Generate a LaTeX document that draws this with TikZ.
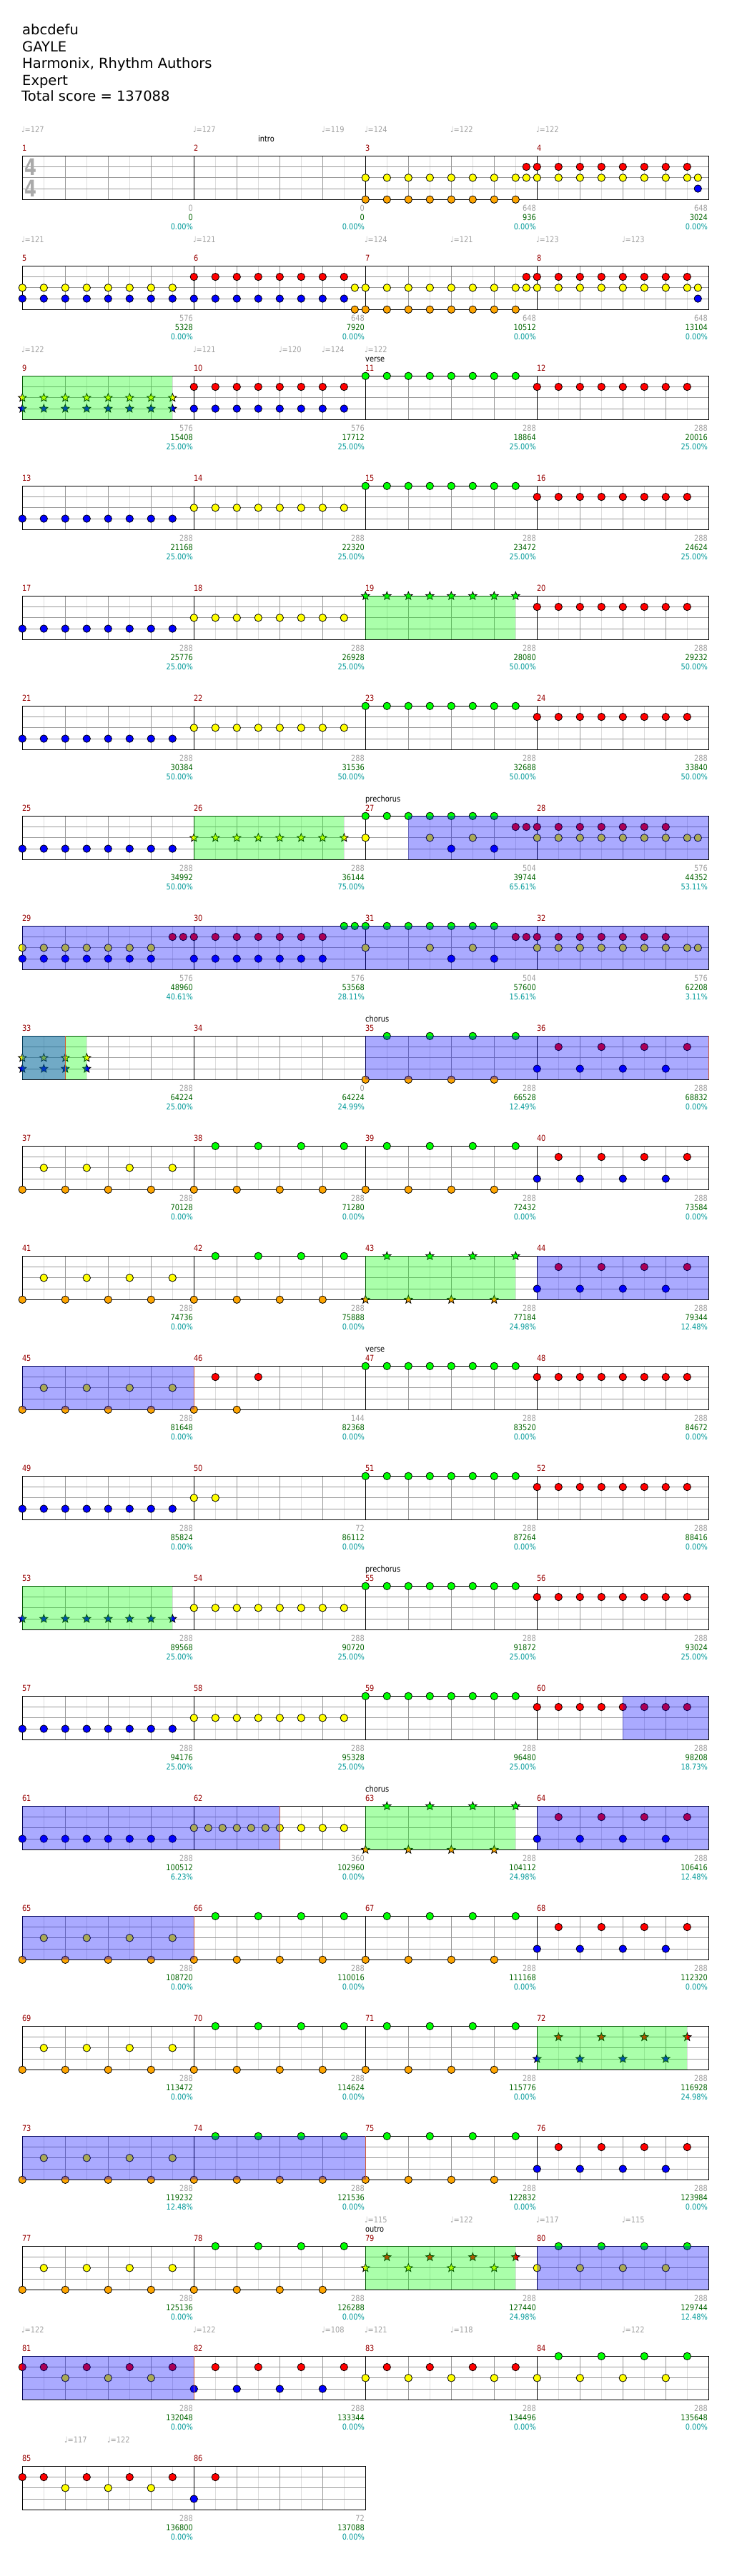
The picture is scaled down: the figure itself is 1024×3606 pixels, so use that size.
\documentclass[tikz,border=0pt]{standalone}
\usepackage{fontspec}
\setmainfont{DejaVu Sans}
\newfontfamily\chartfont[FakeStretch=0.86]{DejaVu Sans}
\newfontfamily\sigfont[FakeStretch=0.76]{DejaVu Sans}

\definecolor{lane0}{RGB}{0,255,0}
\definecolor{lane1}{RGB}{255,0,0}
\definecolor{lane2}{RGB}{255,255,0}
\definecolor{lane3}{RGB}{0,0,255}
\definecolor{lane4}{RGB}{255,165,0}
\definecolor{gridlight}{RGB}{221,221,221}
\definecolor{gridmid}{RGB}{153,153,153}
\definecolor{labelgray}{RGB}{160,160,160}
\definecolor{siggray}{RGB}{170,170,170}
\definecolor{measurered}{RGB}{150,0,0}
\definecolor{scoregreen}{RGB}{0,100,0}
\definecolor{meterteal}{RGB}{0,153,153}
\definecolor{odend}{RGB}{210,90,50}

\tikzset{
  halfline/.style={gridlight, line width=1pt},
  beatline/.style={gridmid, line width=1pt},
  laneline/.style={gridmid, line width=1pt},
  barline/.style={black, line width=1pt},
  note/.style={draw=black, line width=0.8pt},
  spgreen/.style={fill=lane0, fill opacity=0.333},
  odblue/.style={fill=lane3, fill opacity=0.333},
  odendline/.style={odend, line width=0.8pt},
  chart/.style={inner sep=0pt, font=\chartfont\fontsize{11.4}{12}\selectfont},
  mnum/.style={chart, text=measurered, anchor=base west},
  tempo/.style={chart, text=labelgray, anchor=base west},
  sect/.style={chart, text=black, anchor=base west},
  lennum/.style={chart, text=labelgray, anchor=base east},
  scorenum/.style={chart, text=scoregreen, anchor=base east},
  meternum/.style={chart, text=meterteal, anchor=base east},
  header/.style={inner sep=0pt, anchor=base west, font=\fontsize{19.5}{20}\selectfont},
  timesig/.style={inner sep=0pt, anchor=base west, text=siggray, font=\sigfont\bfseries\fontsize{32}{32}\selectfont}
}

\def\eighths{0,0.5,1,1.5,2,2.5,3,3.5}
\def\firstseven{0,0.5,1,1.5,2,2.5,3}
\def\beats{0,1,2,3}
\def\offbeats{0.5,1.5,2.5,3.5}

% start of measure #1: \mx, top of its staff: \my
\newcommand\mpos[1]{%
  \pgfmathtruncatemacro\rr{div(#1-1,4)}%
  \pgfmathtruncatemacro\cc{mod(#1-1,4)}%
  \pgfmathsetmacro\mx{31.3+240*\cc}%
  \pgfmathsetmacro\my{218.3+154*\rr}}

% measure, lanes, times
\newcommand\nts[3]{%
  \mpos{#1}\edef\tlist{#3}%
  \foreach \lane in {#2}{\foreach \tm in \tlist{%
    \draw[note, fill=lane\lane] (\mx+60*\tm,\my+15.25*\lane) circle[radius=5.2];}}}
\newcommand\sts[3]{%
  \mpos{#1}\edef\tlist{#3}%
  \foreach \lane in {#2}{\foreach \tm in \tlist{%
    \draw[note, fill=lane\lane] (\mx+60*\tm,\my+15.25*\lane)
      +(270:6) -- +(306:2.6) -- +(342:6) -- +(18:2.6) -- +(54:6) -- +(90:2.6)
      -- +(126:6) -- +(162:2.6) -- +(198:6) -- +(234:2.6) -- cycle;}}}
\newcommand\altnotes[3]{\nts{#1}{#2}{\beats}\nts{#1}{#3}{\offbeats}}
\newcommand\altstars[3]{\sts{#1}{#2}{\beats}\sts{#1}{#3}{\offbeats}}

\newcommand\greenseg[3]{\mpos{#1}\fill[spgreen] (\mx+60*#2,\my) rectangle (\mx+60*#3,\my+61);}
\newcommand\blueseg[4]{\mpos{#3}\let\xb\mx\mpos{#1}\fill[odblue] (\mx+60*#2,\my) rectangle (\xb+60*#4,\my+61);}
\newcommand\odstop[2]{\mpos{#1}\draw[odendline] (\mx+60*#2,\my) -- +(0,61);}

\begin{document}
\begin{tikzpicture}[x=1pt,y=-1pt]
\useasboundingbox (0,0) rectangle (1024,3606);

\node[header] (song) at (31,48.3) {abcdefu};
\node[header] (artist) at (31,72) {GAYLE};
\node[header] (charter) at (31,95.7) {Harmonix, Rhythm Authors};
\node[header] (level) at (31,119.2) {Expert};
\node[header] (total) at (30,141.7) {Total score = 137088};

% staves
\foreach \row in {0,...,21} {
  \pgfmathtruncatemacro\nm{\row<21 ? 4 : 2}
  \pgfmathsetmacro\ty{218.3+154*\row}
  \pgfmathsetmacro\xe{31.3+240*\nm}
  \pgfmathtruncatemacro\nq{4*\nm-1}
  \pgfmathtruncatemacro\nb{\nm-1}
  \foreach \h in {0,...,\nq} \draw[halfline] (61.3+60*\h,\ty) -- +(0,61);
  \foreach \k in {1,...,\nq} \draw[beatline] (31.3+60*\k,\ty) -- +(0,61);
  \foreach \k in {1,2,3} \draw[laneline] (31.3,\ty+15.25*\k) -- (\xe,\ty+15.25*\k);
  \foreach \k in {1,...,\nb} \draw[barline] (31.3+240*\k,\ty) -- +(0,61);
  \draw[barline] (31.3,\ty) rectangle (\xe,\ty+61);
}

\node[timesig] (sigtop) at (34.5,245) {4};
\node[timesig] (sigbot) at (34.5,275) {4};

% notes
\foreach \m in {13,17,21,25,49,57,61} {\nts{\m}{3}{\eighths}}
\foreach \m in {14,18,22,54,58} {\nts{\m}{2}{\eighths}}
\foreach \m in {11,15,23,47,51,55,59} {\nts{\m}{0}{\eighths}}
\foreach \m in {12,16,20,24,48,52,56,60} {\nts{\m}{1}{\eighths}}
\foreach \m/\la/\lb in {3/2/4, 7/2/4, 4/1/2, 8/1/2, 5/2/3, 6/1/3, 10/1/3} {\nts{\m}{\la,\lb}{\eighths}}
\foreach \m/\la/\lb in {3/1/2, 4/2/3, 6/2/4, 7/1/2, 8/2/3} {\nts{\m}{\la,\lb}{3.75}}
\foreach \m in {37,41,45,65,69,73,77} {\altnotes{\m}{4}{2}}
\foreach \m in {35,38,39,42,66,67,70,71,74,75,78} {\altnotes{\m}{4}{0}}
\foreach \m in {36,40,44,64,68,76,82} {\altnotes{\m}{3}{1}}
\altnotes{83}{2}{1}
\altnotes{80}{2}{0}
\altnotes{84}{2}{0}
\foreach \m in {27,31} {\nts{\m}{0}{\firstseven}\nts{\m}{2}{0,1.5,2.5}\nts{\m}{3}{2,3}\nts{\m}{1}{3.5,3.75}}
\foreach \m in {28,32} {\nts{\m}{1}{\firstseven}\nts{\m}{2}{\eighths,3.75}}
\nts{29}{2,3}{\firstseven}\nts{29}{1}{3.5,3.75}
\nts{30}{1,3}{\firstseven}\nts{30}{0}{3.5,3.75}
\nts{46}{4}{0,1}\nts{46}{1}{0.5,1.5}
\nts{50}{2}{0,0.5}
\nts{62}{2}{0,0.3333,0.6667,1,1.3333,1.6667,2,2.5,3,3.5}
\foreach \m in {81,85} {\nts{\m}{1}{0,\offbeats}\nts{\m}{2}{1,2,3}}
\nts{86}{3}{0}\nts{86}{1}{0.5}
% star notes
\sts{9}{2,3}{\eighths}
\sts{19}{0}{\eighths}
\sts{26}{2}{\eighths}
\sts{53}{3}{\eighths}
\sts{33}{2,3}{0,0.5,1,1.5}
\altstars{43}{4}{0}
\altstars{63}{4}{0}
\altstars{72}{3}{1}
\altstars{79}{2}{1}

% star power phrases
\foreach \m/\ta/\tb in {9/0/3.5, 19/0/3.5, 26/0/3.5, 33/0/1.5, 43/0/3.5, 53/0/3.5, 63/0/3.5, 72/0/3.5, 79/0/3.5} {\greenseg{\m}{\ta}{\tb}}
% overdrive
\foreach \ma/\ta/\mb/\tb in {27/1/28/4, 29/0/32/4, 33/0/33/1, 35/0/36/4, 44/0/44/4, 45/0/45/4, 60/2/60/4, 61/0/62/2,
  64/0/64/4, 65/0/65/4, 73/0/74/4, 80/0/80/4, 81/0/81/4} {\blueseg{\ma}{\ta}{\mb}{\tb}}
\foreach \m/\ta in {33/1, 36/4, 45/4, 62/2, 65/4, 74/4, 81/4} {\odstop{\m}{\ta}}

% measure numbers
\foreach \m in {1,...,86} {\mpos{\m}\node[mnum] (m\m) at (\mx-0.5,\my-6.6) {\m};}

% tempo marks
\foreach \m/\ta/\bpm [count=\k] in {1/0/127, 2/0/127, 2/3/119, 3/0/124, 3/2/122, 4/0/122,
  5/0/121, 6/0/121, 7/0/124, 7/2/121, 8/0/123, 8/2/123, 9/0/122, 10/0/121, 10/2/120, 10/3/124, 11/0/122,
  79/0/115, 79/2/122, 80/0/117, 80/2/115, 81/0/122, 82/0/122, 82/3/108, 83/0/121, 83/2/118, 84/2/122,
  85/1/117, 85/2/122}
  {\mpos{\m}\node[tempo] (bpm\k) at (\mx+60*\ta-1.5,\my-33.3) {♩=\bpm};}

% sections
\foreach \m/\ta/\name [count=\k] in {2/1.5/intro, 11/0/verse, 27/0/prechorus, 35/0/chorus, 47/0/verse,
  55/0/prechorus, 63/0/chorus, 79/0/outro}
  {\mpos{\m}\node[sect] (sec\k) at (\mx+60*\ta-0.3,\my-20) {\name};}

% measure length, score, overdrive meter
\foreach \m/\len/\sc/\pc in {1/0/0/0.00, 2/0/0/0.00, 3/648/936/0.00, 4/648/3024/0.00,
  5/576/5328/0.00, 6/648/7920/0.00, 7/648/10512/0.00, 8/648/13104/0.00,
  9/576/15408/25.00, 10/576/17712/25.00, 11/288/18864/25.00, 12/288/20016/25.00,
  13/288/21168/25.00, 14/288/22320/25.00, 15/288/23472/25.00, 16/288/24624/25.00,
  17/288/25776/25.00, 18/288/26928/25.00, 19/288/28080/50.00, 20/288/29232/50.00,
  21/288/30384/50.00, 22/288/31536/50.00, 23/288/32688/50.00, 24/288/33840/50.00,
  25/288/34992/50.00, 26/288/36144/75.00, 27/504/39744/65.61, 28/576/44352/53.11,
  29/576/48960/40.61, 30/576/53568/28.11, 31/504/57600/15.61, 32/576/62208/3.11,
  33/288/64224/25.00, 34/0/64224/24.99, 35/288/66528/12.49, 36/288/68832/0.00,
  37/288/70128/0.00, 38/288/71280/0.00, 39/288/72432/0.00, 40/288/73584/0.00,
  41/288/74736/0.00, 42/288/75888/0.00, 43/288/77184/24.98, 44/288/79344/12.48,
  45/288/81648/0.00, 46/144/82368/0.00, 47/288/83520/0.00, 48/288/84672/0.00,
  49/288/85824/0.00, 50/72/86112/0.00, 51/288/87264/0.00, 52/288/88416/0.00,
  53/288/89568/25.00, 54/288/90720/25.00, 55/288/91872/25.00, 56/288/93024/25.00,
  57/288/94176/25.00, 58/288/95328/25.00, 59/288/96480/25.00, 60/288/98208/18.73,
  61/288/100512/6.23, 62/360/102960/0.00, 63/288/104112/24.98, 64/288/106416/12.48,
  65/288/108720/0.00, 66/288/110016/0.00, 67/288/111168/0.00, 68/288/112320/0.00,
  69/288/113472/0.00, 70/288/114624/0.00, 71/288/115776/0.00, 72/288/116928/24.98,
  73/288/119232/12.48, 74/288/121536/0.00, 75/288/122832/0.00, 76/288/123984/0.00,
  77/288/125136/0.00, 78/288/126288/0.00, 79/288/127440/24.98, 80/288/129744/12.48,
  81/288/132048/0.00, 82/288/133344/0.00, 83/288/134496/0.00, 84/288/135648/0.00,
  85/288/136800/0.00, 86/72/137088/0.00}
  {\mpos{\m}
   \node[lennum] (len\m) at (\mx+238.8,\my+76.7) {\len};
   \node[scorenum] (sc\m) at (\mx+238.8,\my+89.7) {\sc};
   \node[meternum] (pc\m) at (\mx+238.8,\my+103) {\pc\%};}
\end{tikzpicture}
\end{document}
